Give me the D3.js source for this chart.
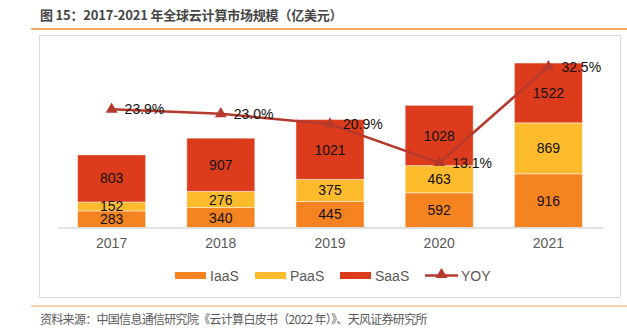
<!DOCTYPE html>
<html>
<head>
<meta charset="utf-8">
<script src="https://cdn.jsdelivr.net/npm/d3@7"></script>
<style>
  body { margin: 0; background: #fff; }
  svg { display: block; font-family: "Liberation Sans", Arial, sans-serif; }
</style>
</head>
<body>
<svg id="chart" width="627" height="333"></svg>
<script>
// market size in 100M USD, stacked per year
const years = ["2017", "2018", "2019", "2020", "2021"]
const iaas = [283, 340, 445, 592, 916]
const paas = [152, 276, 375, 463, 869]
const saas = [803, 907, 1021, 1028, 1522]
const yoy = [23.9, 23.0, 20.9, 13.1, 32.5]
const seriesNames = ["IaaS", "PaaS", "SaaS"]

const colors = { IaaS: "#F5831F", PaaS: "#FBBB2D", SaaS: "#DC3C1B", YOY: "#B5392C" }
const cjk = "'Noto Sans CJK SC', 'Noto Sans', sans-serif"

const svg = d3.select("#chart")

// header
svg.append("text")
  .attr("x", 40).attr("y", 20)
  .attr("font-family", cjk).attr("font-size", 13).attr("font-weight", "bold")
  .attr("letter-spacing", -0.2)
  .attr("fill", "#454545")
  .text("图 15：2017-2021 年全球云计算市场规模（亿美元）")

svg.append("line")
  .attr("x1", 31).attr("x2", 627).attr("y1", 29).attr("y2", 29)
  .attr("stroke", "#F08A2C").attr("stroke-width", 1.5)

svg.append("rect")
  .attr("x", 39.5).attr("y", 35.5).attr("width", 581).attr("height", 262)
  .attr("fill", "#fff").attr("stroke", "#dcdcdc")

svg.append("line")
  .attr("x1", 31).attr("x2", 627).attr("y1", 306).attr("y2", 306)
  .attr("stroke", "#F8C39A").attr("stroke-width", 1.5)

svg.append("text")
  .attr("x", 40).attr("y", 324)
  .attr("font-family", cjk).attr("font-size", 12)
  .attr("letter-spacing", -0.7)
  .attr("fill", "#595959")
  .text("资料来源：中国信息通信研究院《云计算白皮书（2022 年）》、天风证券研究所")

// plot area
const plot = { left: 57, right: 603, top: 63.3, bottom: 227.5 }

const x = d3.scaleBand()
  .domain(years)
  .range([plot.left, plot.right])
  .paddingInner(0.377)
  .paddingOuter(0.1885)

const y = d3.scaleLinear().domain([0, 2800]).range([plot.bottom, plot.top])
const yRight = d3.scaleLinear().domain([0, 33.2]).range([plot.bottom, plot.top])

const rows = years.map((yr, i) => ({ year: yr, IaaS: iaas[i], PaaS: paas[i], SaaS: saas[i] }))
const stacked = d3.stack().keys(seriesNames)(rows)

svg.append("clipPath").attr("id", "plot_clip")
  .append("rect")
  .attr("x", plot.left).attr("y", plot.top)
  .attr("width", plot.right - plot.left).attr("height", plot.bottom - plot.top)

const g_bars = svg.append("g").attr("clip-path", "url(#plot_clip)")

stacked.forEach((layer) => {
  g_bars.selectAll(".bar_" + layer.key)
    .data(layer)
    .enter()
    .append("rect")
    .attr("class", "bar_" + layer.key)
    .attr("x", (d) => x(d.data.year))
    .attr("width", x.bandwidth())
    .attr("y", (d) => y(d[1]))
    .attr("height", (d) => y(d[0]) - y(d[1]))
    .attr("fill", colors[layer.key])
    .attr("stroke", "rgba(255,255,255,0.45)")
    .attr("stroke-width", 1)
})

// x axis
const x_axis = d3.axisBottom(x).tickSize(0).tickPadding(11)
const g_x = svg.append("g")
  .attr("transform", `translate(0,${plot.bottom})`)
  .call(x_axis)
g_x.select(".domain").attr("stroke", "#d9d9d9").attr("stroke-width", 1.5)
g_x.selectAll("text")
  .attr("font-family", "'Liberation Sans', Arial, sans-serif")
  .attr("font-size", 14).attr("fill", "#595959")

// segment labels, centred on the visible part of each segment
stacked.forEach((layer) => {
  svg.selectAll(".lbl_" + layer.key)
    .data(layer)
    .enter()
    .append("text")
    .attr("class", "lbl_" + layer.key)
    .attr("x", (d) => x(d.data.year) + x.bandwidth() / 2)
    .attr("y", (d) => (Math.max(y(d[1]), plot.top) + y(d[0])) / 2)
    .attr("dy", "0.36em")
    .attr("text-anchor", "middle")
    .attr("font-size", 14).attr("fill", "#111")
    .text((d) => d.data[layer.key])
})

// YOY line
const line = d3.line()
  .x((d, i) => x(years[i]) + x.bandwidth() / 2)
  .y((d) => yRight(d))

svg.append("path")
  .datum(yoy)
  .attr("d", line)
  .attr("fill", "none")
  .attr("stroke", colors.YOY)
  .attr("stroke-width", 2.5)

const tri = d3.symbol().type(d3.symbolTriangle).size(60)

svg.selectAll(".yoy_marker")
  .data(yoy)
  .enter()
  .append("path")
  .attr("class", "yoy_marker")
  .attr("d", tri)
  .attr("transform", (d, i) => `translate(${x(years[i]) + x.bandwidth() / 2},${yRight(d)})`)
  .attr("fill", colors.YOY)

svg.selectAll(".yoy_label")
  .data(yoy)
  .enter()
  .append("text")
  .attr("class", "yoy_label")
  .attr("x", (d, i) => x(years[i]) + x.bandwidth() / 2 + 13)
  .attr("y", (d) => yRight(d))
  .attr("dy", "0.36em")
  .attr("font-size", 14).attr("fill", "#111")
  .text((d) => d.toFixed(1) + "%")

// legend
const legend = svg.append("g").attr("transform", "translate(0,275.5)")
const legendItems = [
  { name: "IaaS", x: 175 },
  { name: "PaaS", x: 255 },
  { name: "SaaS", x: 340 },
  { name: "YOY", x: 425 },
]

legendItems.forEach((item) => {
  if (item.name === "YOY") {
    legend.append("line")
      .attr("x1", item.x).attr("x2", item.x + 33)
      .attr("stroke", colors.YOY).attr("stroke-width", 2.5)
    legend.append("path")
      .attr("d", tri)
      .attr("transform", `translate(${item.x + 16.5},-1)`)
      .attr("fill", colors.YOY)
  } else {
    legend.append("rect")
      .attr("x", item.x).attr("y", -3.5)
      .attr("width", 31).attr("height", 7)
      .attr("fill", colors[item.name])
  }
  legend.append("text")
    .attr("x", item.x + (item.name === "YOY" ? 36 : 35))
    .attr("dy", "0.36em")
    .attr("font-size", 14).attr("fill", "#595959")
    .text(item.name)
})
</script>
</body>
</html>
